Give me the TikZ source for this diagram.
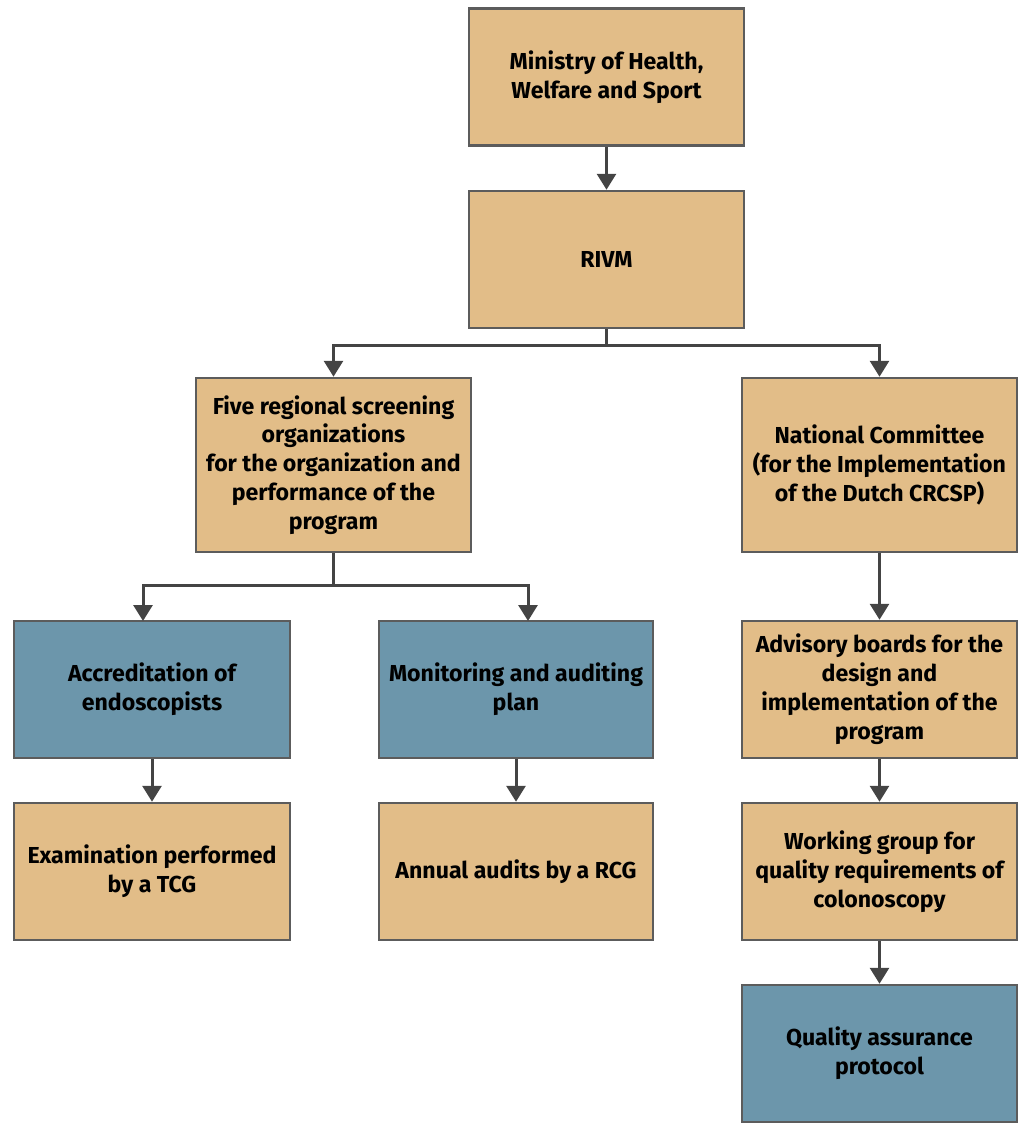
\documentclass[tikz,border=0pt]{standalone}
\usepackage{fontspec}
\setmainfont{Fira Sans}
\usetikzlibrary{arrows.meta}
\definecolor{tanbox}{HTML}{E2BD88}
\definecolor{bluebox}{HTML}{6C96AB}
\definecolor{edgegray}{HTML}{5C5C5C}
\definecolor{arrgray}{HTML}{444444}
\tikzset{
  box/.style={draw=edgegray, line width=2.5bp, rectangle, minimum width=275bp, minimum height=137bp,
    align=center, inner sep=4bp, font=\fontsize{23.2}{29}\selectfont\bfseries, text=black},
  tanb/.style={box, fill=tanbox},
  blueb/.style={box, fill=bluebox},
  arr/.style={draw=arrgray, line width=3bp, -{Triangle[width=19bp,length=16bp]}},
  ln/.style={draw=arrgray, line width=3bp}
}
\begin{document}
\begin{tikzpicture}[x=1bp,y=-1bp]
\useasboundingbox (0,0) rectangle (1019,1124);
\node[tanb] (min) at (606.5,77) {Ministry of Health,\\Welfare and Sport};
\node[tanb] (rivm) at (606.5,259.5) {RIVM};
\node[tanb, minimum height=174bp] (five) at (333.5,465) {Five regional screening\\organizations\\for the organization and\\performance of the\\program};
\node[tanb, minimum height=174bp] (nc) at (879.5,465) {National Committee\\(for the Implementation\\of the Dutch CRCSP)};
\node[blueb, minimum width=276bp] (acc) at (152,689.5) {Accreditation of\\endoscopists};
\node[blueb, minimum width=274bp] (mon) at (516,689.5) {Monitoring and auditing\\plan};
\node[tanb] (adv) at (879.5,689.5) {Advisory boards for the\\design and\\implementation of the\\program};
\node[tanb, minimum width=276bp] (exam) at (152,871.5) {Examination performed\\by a TCG};
\node[tanb, minimum width=274bp] (ann) at (516,871.5) {Annual audits by a RCG};
\node[tanb] (wg) at (879.5,871.5) {Working group for\\quality requirements of\\colonoscopy};
\node[blueb] (qa) at (879.5,1053.5) {Quality assurance\\protocol};
% connectors
\draw[arr] (min.south) -- (rivm.north);
\coordinate (b1) at (606.5,345);
\draw[ln] (rivm.south) -- (b1);
\draw[arr] (b1) -| (five.north);
\draw[arr] (b1) -| (nc.north);
\coordinate (b2) at (333.5,585);
\coordinate (accin) at (143,621);
\coordinate (monin) at (528,621);
\draw[ln] (five.south) -- (b2);
\draw[arr] (b2) -| (accin);
\draw[arr] (b2) -| (monin);
\draw[arr] (acc.south) -- (exam.north);
\draw[arr] (mon.south) -- (ann.north);
\draw[arr] (nc.south) -- (adv.north);
\draw[arr] (adv.south) -- (wg.north);
\draw[arr] (wg.south) -- (qa.north);
\end{tikzpicture}
\end{document}
